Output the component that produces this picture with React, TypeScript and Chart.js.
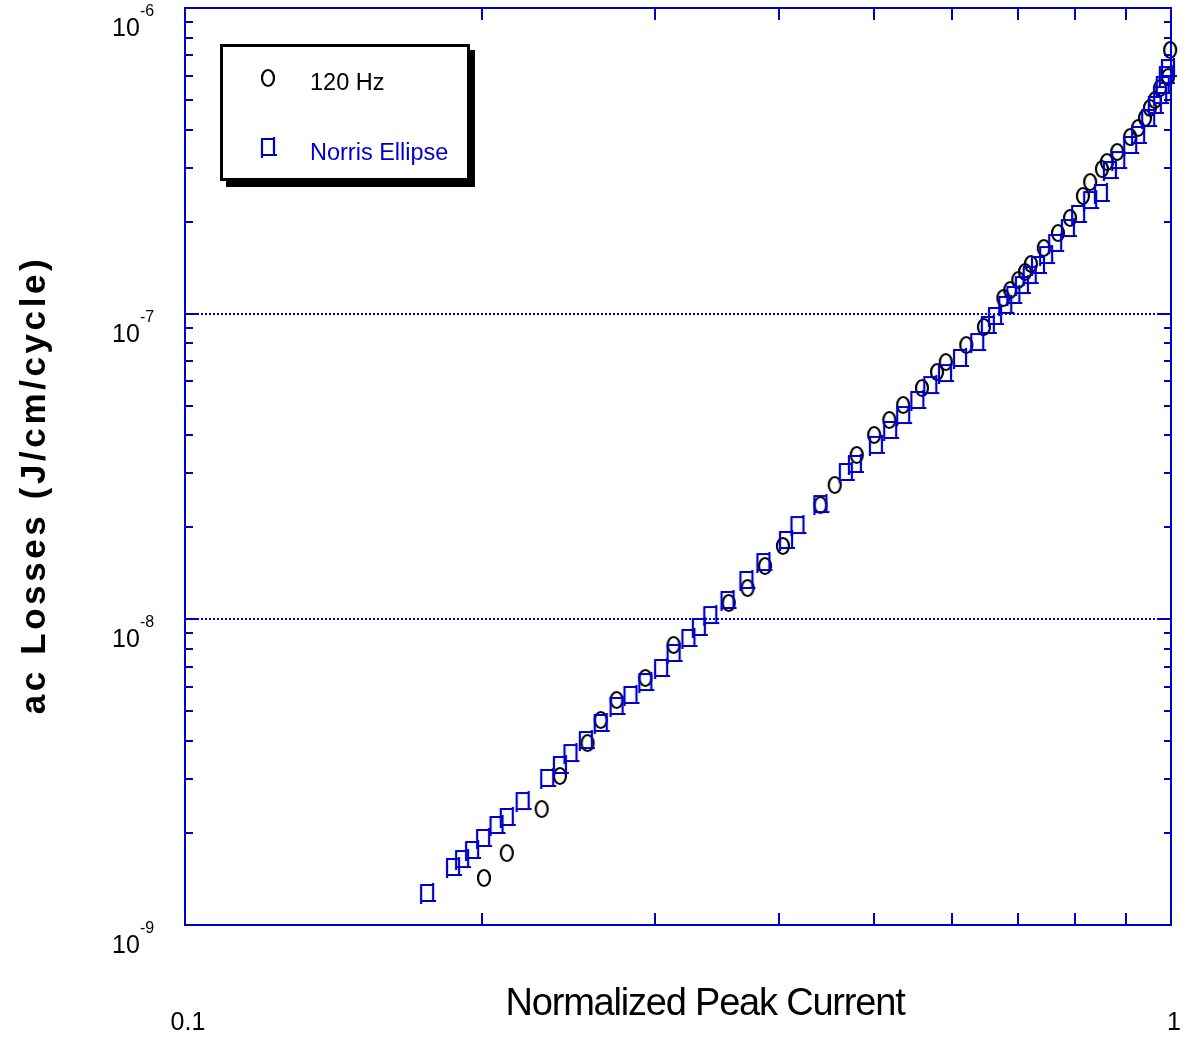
import React, { useEffect, useRef } from 'react';
import { Chart, registerables } from 'chart.js';

Chart.register(...registerables);

// 120 Hz measurements (black circles)
const hz120X = [0.201, 0.212, 0.230, 0.240, 0.256, 0.264, 0.274, 0.293, 0.313, 0.356, 0.372, 0.3875, 0.404, 0.441, 0.456, 0.480, 0.500, 0.518, 0.535, 0.559, 0.579, 0.591, 0.620, 0.646, 0.676, 0.687, 0.700, 0.711, 0.721, 0.743, 0.768, 0.790, 0.814, 0.828, 0.851, 0.861, 0.882, 0.909, 0.926, 0.941, 0.952, 0.963, 0.975, 0.993, 0.998];
const hz120Y = [1.425e-9, 1.72e-9, 2.396e-9, 3.073e-9, 3.938e-9, 4.685e-9, 5.447e-9, 6.428e-9, 8.243e-9, 1.131e-8, 1.266e-8, 1.494e-8, 1.738e-8, 2.366e-8, 2.751e-8, 3.449e-8, 4.010e-8, 4.489e-8, 5.026e-8, 5.712e-8, 6.442e-8, 6.947e-8, 7.897e-8, 9.045e-8, 1.125e-7, 1.195e-7, 1.289e-7, 1.369e-7, 1.454e-7, 1.640e-7, 1.836e-7, 2.056e-7, 2.427e-7, 2.696e-7, 2.973e-7, 3.134e-7, 3.380e-7, 3.784e-7, 4.050e-7, 4.365e-7, 4.709e-7, 5.000e-7, 5.473e-7, 5.946e-7, 7.289e-7];

// Norris Ellipse (blue squares)
const norrisX = [0.176, 0.187, 0.191, 0.1955, 0.2006, 0.207, 0.212, 0.220, 0.233, 0.240, 0.246, 0.255, 0.264, 0.274, 0.283, 0.293, 0.304, 0.313, 0.324, 0.332, 0.341, 0.355, 0.371, 0.386, 0.407, 0.418, 0.441, 0.468, 0.478, 0.502, 0.519, 0.535, 0.553, 0.570, 0.590, 0.611, 0.636, 0.652, 0.663, 0.679, 0.692, 0.706, 0.719, 0.733, 0.747, 0.763, 0.786, 0.805, 0.828, 0.849, 0.867, 0.884, 0.909, 0.926, 0.948, 0.963, 0.975, 0.981, 0.988, 0.993];
const norrisY = [1.273e-9, 1.548e-9, 1.644e-9, 1.76e-9, 1.926e-9, 2.124e-9, 2.256e-9, 2.544e-9, 3.027e-9, 3.338e-9, 3.653e-9, 4.028e-9, 4.581e-9, 5.207e-9, 5.656e-9, 6.237e-9, 6.932e-9, 7.762e-9, 8.689e-9, 9.441e-9, 1.033e-8, 1.157e-8, 1.345e-8, 1.540e-8, 1.818e-8, 2.035e-8, 2.384e-8, 3.034e-8, 3.223e-8, 3.720e-8, 4.164e-8, 4.661e-8, 5.219e-8, 5.842e-8, 6.394e-8, 7.161e-8, 8.078e-8, 9.183e-8, 9.826e-8, 1.068e-7, 1.151e-7, 1.241e-7, 1.338e-7, 1.443e-7, 1.555e-7, 1.703e-7, 1.906e-7, 2.119e-7, 2.354e-7, 2.482e-7, 2.951e-7, 3.182e-7, 3.563e-7, 3.842e-7, 4.365e-7, 4.817e-7, 5.192e-7, 5.599e-7, 6.036e-7, 6.363e-7];

const seriesNames = ['120 Hz', 'Norris Ellipse'];
const yDecades = [1e-9, 1e-8, 1e-7, 1e-6];
const yExponents = ['-9', '-8', '-7', '-6'];
const yGridValues = [1e-8, 1e-7];
const xTickValues = [0.1, 1];
const xTickLabels = ['0.1', '1'];
const xMinorValues = [0.2, 0.3, 0.4, 0.5, 0.6, 0.7, 0.8, 0.9];
const xTitle = 'Normalized Peak Current';
const yTitle = 'ac Losses (J/cm/cycle)';

const BLUE = '#0000cc';
const FONT = '"Liberation Sans", Arial, sans-serif';

function makeCircle(): HTMLCanvasElement {
  const c = document.createElement('canvas');
  c.width = 18; c.height = 22;
  const g = c.getContext('2d')!;
  g.strokeStyle = '#000';
  g.lineWidth = 2.2;
  g.beginPath();
  g.ellipse(9, 11, 6, 8, 0, 0, Math.PI * 2);
  g.stroke();
  return c;
}

function makeSquare(): HTMLCanvasElement {
  const c = document.createElement('canvas');
  c.width = 20; c.height = 24;
  const g = c.getContext('2d')!;
  g.strokeStyle = BLUE;
  g.lineWidth = 2.2;
  g.beginPath();
  g.moveTo(3, 4); g.lineTo(17, 4);   // top
  g.moveTo(16, 2); g.lineTo(16, 20); // right
  g.moveTo(4, 4); g.lineTo(4, 23);   // left
  g.moveTo(3, 20); g.lineTo(19, 20); // bottom
  g.stroke();
  return c;
}

export default function App() {
  const ref = useRef<HTMLCanvasElement>(null);

  useEffect(() => {
    document.body.style.margin = '0';
    const circle = makeCircle();
    const square = makeSquare();

    const framePlugin = {
      id: 'framePlugin',
      beforeDatasetsDraw(chart: any) {
        const { ctx, chartArea: a, scales } = chart;
        const y = scales.y;
        ctx.save();
        ctx.strokeStyle = BLUE;
        ctx.lineWidth = 2;
        ctx.setLineDash([2, 2]);
        yGridValues.forEach((v) => {
          const py = Math.round(y.getPixelForValue(v));
          ctx.beginPath();
          ctx.moveTo(a.left, py);
          ctx.lineTo(a.right, py);
          ctx.stroke();
        });
        ctx.restore();
      },
      afterDatasetsDraw(chart: any) {
        const { ctx, chartArea: a, scales } = chart;
        const x = scales.x, y = scales.y;
        ctx.save();
        ctx.strokeStyle = BLUE;
        ctx.lineWidth = 2;
        ctx.setLineDash([]);
        ctx.strokeRect(a.left, a.top, a.right - a.left, a.bottom - a.top);
        ctx.beginPath();
        xMinorValues.forEach((v) => {
          const px = Math.round(x.getPixelForValue(v));
          ctx.moveTo(px, a.bottom); ctx.lineTo(px, a.bottom - 12);
          ctx.moveTo(px, a.top); ctx.lineTo(px, a.top + 12);
        });
        for (let d = 0; d < yDecades.length; d++) {
          const base = yDecades[d];
          const py = Math.round(y.getPixelForValue(base));
          ctx.moveTo(a.left, py); ctx.lineTo(a.left + 12, py);
          ctx.moveTo(a.right, py); ctx.lineTo(a.right - 12, py);
          if (d < yDecades.length - 1) {
            for (let m = 2; m <= 9; m++) {
              const pm = Math.round(y.getPixelForValue(base * m));
              ctx.moveTo(a.left, pm); ctx.lineTo(a.left + 8, pm);
              ctx.moveTo(a.right, pm); ctx.lineTo(a.right - 7, pm);
            }
          }
        }
        ctx.stroke();
        ctx.restore();
      },
      afterDraw(chart: any) {
        const { ctx, scales } = chart;
        const x = scales.x, y = scales.y;
        ctx.save();
        ctx.fillStyle = '#000';
        yDecades.forEach((v, i) => {
          const py = y.getPixelForValue(v);
          ctx.textAlign = 'left';
          ctx.textBaseline = 'alphabetic';
          ctx.font = `25px ${FONT}`;
          ctx.fillText('10', 112, py + 28);
          ctx.font = `16px ${FONT}`;
          ctx.fillText(yExponents[i], 140, py + 8);
        });
        ctx.font = `25px ${FONT}`;
        ctx.textAlign = 'center';
        xTickValues.forEach((v, i) => {
          const px = x.getPixelForValue(v);
          ctx.fillText(xTickLabels[i], px + 3, 1030);
        });
        ctx.font = `38px ${FONT}`;
        (ctx as any).letterSpacing = '-1.2px';
        ctx.fillText(xTitle, 705, 1015);
        ctx.save();
        ctx.translate(45, 485);
        ctx.rotate(-Math.PI / 2);
        ctx.font = `bold 35px ${FONT}`;
        (ctx as any).letterSpacing = '3.6px';
        ctx.textAlign = 'center';
        ctx.fillText(yTitle, 0, 0);
        ctx.restore();
        (ctx as any).letterSpacing = '0px';

        // legend box with shadow
        ctx.fillStyle = '#000';
        ctx.fillRect(226, 50, 249, 137);
        ctx.fillStyle = '#fff';
        ctx.fillRect(220, 44, 250, 137);
        ctx.strokeStyle = '#000';
        ctx.lineWidth = 3;
        ctx.strokeRect(221.5, 45.5, 247, 134);
        ctx.drawImage(circle, 268 - circle.width / 2, 78 - circle.height / 2);
        ctx.drawImage(square, 268 - square.width / 2, 147 - square.height / 2);
        ctx.font = `23.5px ${FONT}`;
        ctx.textAlign = 'left';
        ctx.fillStyle = '#000';
        ctx.fillText(seriesNames[0], 310, 90);
        ctx.fillStyle = BLUE;
        ctx.fillText(seriesNames[1], 310, 160);
        ctx.restore();
      },
    };

    const chart = new Chart(ref.current!, {
      type: 'scatter',
      data: {
        datasets: [
          {
            label: seriesNames[1],
            data: norrisX.map((v, i) => ({ x: v, y: norrisY[i] })),
            pointStyle: square as any,
            clip: false as any,
          },
          {
            label: seriesNames[0],
            data: hz120X.map((v, i) => ({ x: v, y: hz120Y[i] })),
            pointStyle: circle as any,
            clip: false as any,
          },
        ],
      },
      options: {
        responsive: false,
        animation: false,
        layout: { padding: { left: 185, right: 17, top: 8, bottom: 113 } },
        plugins: { legend: { display: false }, tooltip: { enabled: false } },
        scales: {
          x: { type: 'logarithmic', min: 0.1, max: 1, display: false },
          y: { type: 'logarithmic', min: 1e-9, max: 1e-6, display: false },
        },
      },
      plugins: [framePlugin],
    });
    return () => chart.destroy();
  }, []);

  return (
    <div style={{ position: 'absolute', left: 0, top: 0, width: 1188, height: 1038, background: '#fff' }}>
      <canvas ref={ref} width={1188} height={1038} />
    </div>
  );
}
